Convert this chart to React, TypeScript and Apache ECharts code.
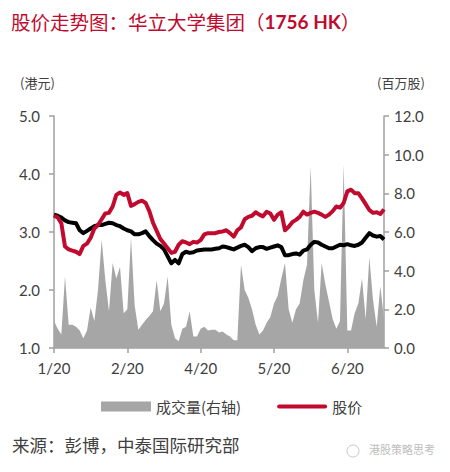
import { useEffect, useRef } from "react";
import * as echarts from "echarts";

// 股价走势图 — 华立大学集团, 1/20 ~ 6/20
const TITLE_CN = "股价走势图：华立大学集团（";
const TITLE_CODE = "1756 HK";
const TITLE_END = "）";
const TICK_LABELS = ["1/20", "2/20", "4/20", "5/20", "6/20"];
const TICK_EVERY = 20;

// 股价 (港元)
const PRICE = [
  3.28, 3.25, 3.15, 2.75, 2.7, 2.68, 2.66, 2.62, 2.76, 2.8,
  2.9, 3.06, 3.12, 3.22, 3.32, 3.33, 3.44, 3.64, 3.68, 3.64,
  3.67, 3.45, 3.48, 3.52, 3.54, 3.5, 3.36, 3.16, 3.02, 2.88,
  2.8, 2.72, 2.64, 2.66, 2.78, 2.84, 2.82, 2.79, 2.83, 2.82,
  2.86, 2.96, 2.98, 2.98, 2.98, 3.0, 3.01, 3.03, 2.98, 2.92,
  3.03, 3.08, 3.22, 3.26, 3.28, 3.34, 3.3, 3.27, 3.35, 3.32,
  3.21, 3.3, 3.34, 3.03, 3.09, 3.17, 3.21, 3.26, 3.35, 3.3,
  3.33, 3.35, 3.33, 3.3, 3.26, 3.3, 3.36, 3.44, 3.42, 3.5,
  3.7, 3.73, 3.67, 3.67, 3.58, 3.48, 3.38, 3.33, 3.34, 3.31,
  3.39,
];

// 黑线 (基准, 无图例)
const BENCH = [
  3.3, 3.28, 3.25, 3.2, 3.17, 3.16, 3.15, 3.03, 2.98, 3.02,
  3.06, 3.1, 3.12, 3.12, 3.14, 3.16, 3.15, 3.12, 3.1, 3.06,
  3.03, 3.01, 2.96, 2.96, 2.98, 3.01, 2.93, 2.86, 2.8, 2.76,
  2.7, 2.58, 2.46, 2.52, 2.46, 2.62, 2.66, 2.64, 2.65, 2.68,
  2.69, 2.7, 2.7, 2.7, 2.71, 2.72, 2.75, 2.74, 2.72, 2.7,
  2.73, 2.76, 2.78, 2.74, 2.67, 2.72, 2.74, 2.74, 2.71, 2.73,
  2.75, 2.77, 2.74, 2.6, 2.6, 2.62, 2.63, 2.61, 2.68, 2.7,
  2.78, 2.83, 2.82, 2.78, 2.75, 2.72, 2.72, 2.75, 2.78, 2.77,
  2.79, 2.77, 2.76, 2.78, 2.82, 2.9, 2.98, 2.94, 2.92, 2.93,
  2.87,
];

// 成交量 (百万股)
const VOLUME = [
  1.4, 1.0, 0.7, 3.7, 1.2, 1.2, 1.1, 0.9, 0.5, 0.9,
  2.1, 1.4, 3.0, 5.6, 3.5, 1.9, 4.4, 3.6, 4.2, 1.8,
  2.0, 5.7, 2.2, 0.95, 1.2, 1.45, 1.65, 1.9, 3.5, 1.9,
  2.3, 3.7, 1.2, 0.5, 0.35, 1.0, 1.1, 1.9, 0.6, 0.6,
  1.0, 1.1, 0.9, 0.95, 0.95, 0.8, 0.85, 0.7, 0.6, 0.4,
  0.4, 4.3, 3.0, 2.6, 2.0, 1.2, 0.7, 0.9, 1.3, 1.6,
  2.3, 2.7, 3.6, 4.4, 2.0, 1.3, 2.0, 2.3, 3.5, 4.3,
  9.4, 3.0, 1.3, 4.4, 3.3, 2.4, 1.5, 1.0, 1.4, 9.5,
  0.9, 0.9, 1.8, 2.3, 3.6, 1.5, 4.7, 2.5, 1.1, 3.2,
  1.5,
];

const DAYS = PRICE.map((_, i) => String(i));

const FONT = "Lato, 'Noto Sans CJK SC', sans-serif";
const CJK = "'Noto Sans CJK SC', sans-serif";
const RED = "#c00a2e";
const AXIS = "#a0a0a0";
const TEXT = "#404040";

export default function App() {
  const ref = useRef<HTMLDivElement | null>(null);

  useEffect(() => {
    document.body.style.margin = "0";
    if (!ref.current) return;
    const chart = echarts.init(ref.current, undefined, { renderer: "svg" });
    const isTick = (i: number) => i % TICK_EVERY === 0;

    chart.setOption({
      animation: false,
      backgroundColor: "#fff",
      textStyle: { fontFamily: FONT },
      grid: { left: 54, right: 66, top: 116, bottom: 124 },
      legend: {
        left: 96,
        top: 394,
        itemGap: 36,
        itemWidth: 50,
        itemHeight: 10,
        textStyle: { fontFamily: CJK, fontSize: 15, color: TEXT },
        data: [
          { name: "成交量(右轴)", icon: "rect" },
          { name: "股价", icon: "path://M2,0 L50,0 A2,2 0 0 1 50,4 L2,4 A2,2 0 0 1 2,0 Z" },
        ],
      },
      graphic: [
        {
          type: "text", left: 11, top: 12,
          style: {
            text: `{cn|${TITLE_CN}}{code|${TITLE_CODE}}{cn|${TITLE_END}}`,
            rich: {
              cn: { fill: RED, fontSize: 19.5, fontFamily: CJK },
              code: { fill: RED, fontSize: 19, fontFamily: "Lato, sans-serif", fontWeight: "bold" },
            },
          },
        },
        { type: "text", left: 20, top: 76, style: { text: "(港元)", fill: TEXT, fontSize: 13, fontFamily: CJK } },
        { type: "text", left: 377, top: 76, style: { text: "(百万股)", fill: TEXT, fontSize: 13, fontFamily: CJK } },
        { type: "text", left: 12, top: 436, style: { text: "来源：彭博，中泰国际研究部", fill: TEXT, fontSize: 17.5, fontFamily: CJK } },
        { type: "circle", shape: { cx: 353, cy: 451, r: 6 }, style: { fill: "none", stroke: "#c8c8c8", lineWidth: 1 } },
        { type: "text", left: 369, top: 443, style: { text: "港股策略思考", fill: "#bdbdbd", fontSize: 11, fontFamily: CJK } },
      ],
      xAxis: {
        type: "category",
        data: DAYS,
        boundaryGap: false,
        axisLine: { lineStyle: { color: AXIS, width: 1.5 } },
        axisTick: { interval: isTick, length: 5, lineStyle: { color: AXIS, width: 1.5 } },
        axisLabel: {
          interval: isTick,
          formatter: (_v: string, i: number) => TICK_LABELS[i / TICK_EVERY] ?? "",
          color: TEXT, fontSize: 15, margin: 12, fontFamily: FONT,
        },
      },
      yAxis: [
        {
          type: "value", min: 1, max: 5, interval: 1,
          splitLine: { show: false },
          axisLine: { show: true, lineStyle: { color: AXIS, width: 1.5 } },
          axisTick: { show: true, length: 5, lineStyle: { color: AXIS, width: 1.5 } },
          axisLabel: { formatter: (v: number) => v.toFixed(1), color: TEXT, fontSize: 15, margin: 14 },
        },
        {
          type: "value", min: 0, max: 12, interval: 2, position: "right",
          splitLine: { show: false },
          axisLine: { show: true, lineStyle: { color: AXIS, width: 1.5 } },
          axisTick: { show: true, length: 5, lineStyle: { color: AXIS, width: 1.5 } },
          axisLabel: { formatter: (v: number) => v.toFixed(1), color: TEXT, fontSize: 15, margin: 10 },
        },
      ],
      series: [
        {
          name: "成交量(右轴)", type: "line", yAxisIndex: 1, data: VOLUME,
          symbol: "none", color: "#a6a6a6",
          lineStyle: { width: 0 },
          areaStyle: { color: "#a6a6a6", opacity: 1 },
        },
        {
          name: "基准", type: "line", data: BENCH, symbol: "none", color: "#000",
          lineStyle: { width: 4, color: "#000", join: "round" },
        },
        {
          name: "股价", type: "line", data: PRICE, symbol: "none", color: RED,
          lineStyle: { width: 4, color: RED, join: "round" },
        },
      ],
    });

    return () => chart.dispose();
  }, []);

  return <div ref={ref} style={{ width: 450, height: 472 }} />;
}
